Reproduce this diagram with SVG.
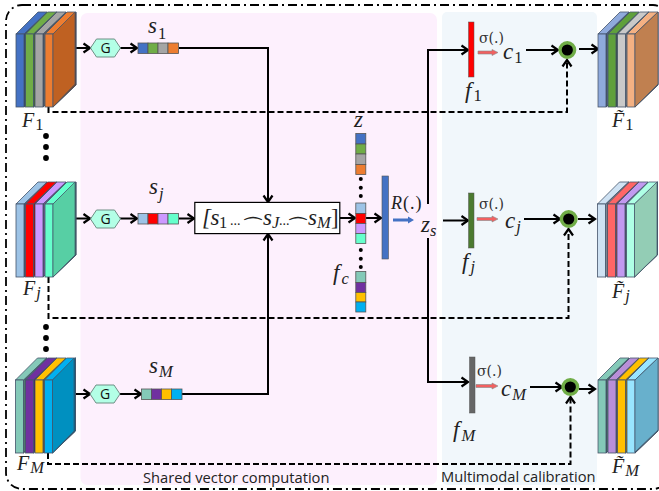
<svg xmlns="http://www.w3.org/2000/svg" xmlns:xlink="http://www.w3.org/1999/xlink" width="659" height="491" viewBox="0 0 659 491">
<style>
.m{font-family:"Liberation Serif","DejaVu Serif",serif;font-style:italic;fill:#222;font-size:23px}
.F{font-size:20px}
.f{font-size:23px}
.r{font-size:18px;letter-spacing:1px}
.n{font-style:normal}
.sub{font-size:16.500px}
.sm{font-family:"DejaVu Serif","Liberation Serif",serif;font-size:14px;fill:#333}
.cap{font-family:"Open Sans","Noto Sans",sans-serif;font-size:14.700px;fill:#222}
.g{font-family:"Open Sans","Noto Sans",sans-serif;font-size:14px;fill:#111;text-anchor:middle}
.ln{fill:none;stroke:#000;stroke-width:2}
.ar{marker-end:url(#arrow)}
.da{stroke-dasharray:6 3}
.hex{fill:#B3FFE6;stroke:#6F8F85;stroke-width:1}
.cell{stroke:#555;stroke-width:.8}
.side{stroke:#44546A;stroke-width:.7}
.dot{fill:#000}
.circ{fill:#000;stroke:#70AD47;stroke-width:3.400}
.dd{font-size:14px;font-style:normal}
.arc{font-family:"DejaVu Sans",sans-serif;font-size:20px;font-style:normal}
</style>
<defs>
<marker id="arrow" markerUnits="userSpaceOnUse" markerWidth="12" markerHeight="12" refX="9.500" refY="6" orient="auto"><path d="M3 1.500L9.500 6L3 10.500" fill="none" stroke="#000" stroke-width="2.200"/></marker>
<g id="slab" stroke="#44546A" stroke-width=".8"><polygon points="8,0 31,-22 31,51 8,73"/><polygon points="8,0 31,-22 31,51 8,73" fill="#000" fill-opacity=".4"/><polygon points="0,0 22,-22 31,-22 8,0"/><rect width="8" height="73"/></g>
<g id="hexa"><polygon class="hex" points="0,9 6,0 24,0 30,9 24,18 6,18"/><text class="g" x="15" y="14">G</text></g>
<g id="dots3"><circle class="dot" r="2.900"/><circle class="dot" cy="11" r="2.900"/><circle class="dot" cy="22" r="2.900"/></g>
<g id="vd"><circle class="dot" r="2"/><circle class="dot" cy="8.700" r="2"/><circle class="dot" cy="17" r="2"/></g>
</defs>
<rect id="bg-shared" x="80.500" y="13" width="356.500" height="472" rx="7" fill="#FDF0FD"/>
<rect id="bg-calib" x="442" y="12" width="155" height="473" rx="5" fill="#F1F7FB"/>
<rect id="frame" x="6" y="5" width="663" height="484" rx="16" fill="none" stroke="#000" stroke-width="1.800" stroke-dasharray="9 4 2 4"/>
<g id="connectors">
<path class="ln ar" d="M75 48H90"/><path class="ln ar" d="M120 48H137"/><path class="ln ar" d="M179 48H268V202"/>
<path class="ln ar" d="M75 218.500H90"/><path class="ln ar" d="M120 218.500H137"/><path class="ln ar" d="M179 218.500H194"/>
<path class="ln ar" d="M74 394H90"/><path class="ln ar" d="M120 394H141"/><path class="ln ar" d="M182 394H268V234"/>
<path class="ln ar" d="M340 218H355"/><path class="ln ar" d="M366 218H381"/>
<path class="ln ar" d="M428 204V50H468"/><path class="ln ar" d="M428 238V382H468"/><path class="ln ar" d="M443 220.500H468"/>
<path class="ln ar" d="M526 50H558"/><path class="ln ar" d="M524 219H560"/><path class="ln ar" d="M530 387H562"/>
<path class="ln ar" d="M579 49H598"/><path class="ln ar" d="M578 219H595"/><path class="ln ar" d="M579 389H595"/>
<path class="ln ar da" d="M48.500 107V112H567V60"/><path class="ln ar da" d="M48.500 277V318H568.500V229"/><path class="ln ar da" d="M48 453V464H570.500V397"/>
<polygon points="393,218.500 408,218.500 408,216.500 414,220 408,223.500 408,221.500 393,221.500" fill="#4472C4"/>
<polygon points="478,51 492,51 492,49.500 498,52.500 492,55.500 492,54 478,54" fill="#F26060" stroke="#888" stroke-width=".6"/>
<polygon points="477,217.500 492,217.500 492,216 498,219 492,222 492,220.500 477,220.500" fill="#F26060" stroke="#888" stroke-width=".6"/>
<polygon points="476,384.500 492,384.500 492,383 498,386 492,389 492,387.500 476,387.500" fill="#F26060" stroke="#888" stroke-width=".6"/>
</g>
<g id="stack-F1"><use xlink:href="#slab" x="16" y="34" fill="#4472C4"/><use xlink:href="#slab" x="25.500" y="34" fill="#70AD47"/><use xlink:href="#slab" x="35" y="34" fill="#A5A5A5"/><use xlink:href="#slab" x="45" y="34" fill="#ED7D31"/><polygon class="side" points="53,34 75,12 75,84 53,107" fill="#BF6122"/><text class="m F" x="22" y="127">F<tspan class="n sub" dy="3" dx="1">1</tspan></text></g>
<g id="stack-Fj"><use xlink:href="#slab" x="16" y="204" fill="#9DC3E6"/><use xlink:href="#slab" x="25.500" y="204" fill="#FF0000"/><use xlink:href="#slab" x="35" y="204" fill="#CC99FF"/><use xlink:href="#slab" x="45" y="204" fill="#66FFCC"/><polygon class="side" points="53,204 75,182 75,255 53,277" fill="#57CFA4"/><text class="m F" x="23" y="295">F<tspan class="sub" dy="3" dx="1">j</tspan></text></g>
<g id="stack-FM"><use xlink:href="#slab" x="15.500" y="380" fill="#84C9B8"/><use xlink:href="#slab" x="25.500" y="380" fill="#7030A0"/><use xlink:href="#slab" x="35" y="380" fill="#FFC000"/><use xlink:href="#slab" x="44.500" y="380" fill="#00B0F0"/><polygon class="side" points="52.500,380 74,358 74,431 52.500,453" fill="#0090C0"/><text class="m F" x="17" y="470">F<tspan class="sub" dy="3" dx="1">M</tspan></text></g>
<use id="dots-a" xlink:href="#dots3" x="46" y="136"/><use id="dots-b" xlink:href="#dots3" x="46" y="327"/>
<g id="g1"><use xlink:href="#hexa" x="90.500" y="39"/></g><g id="gj"><use xlink:href="#hexa" x="90.500" y="210"/></g><g id="gM"><use xlink:href="#hexa" x="90" y="385"/></g>
<g id="s1"><rect class="cell" x="138" y="43" width="10" height="10.500" fill="#4472C4"/><rect class="cell" x="148" y="43" width="10" height="10.500" fill="#70AD47"/><rect class="cell" x="158" y="43" width="10" height="10.500" fill="#A5A5A5"/><rect class="cell" x="168" y="43" width="10.500" height="10.500" fill="#ED7D31"/><text class="m" x="148" y="33">s<tspan class="n sub" dy="6" dx="1">1</tspan></text></g>
<g id="sj"><rect class="cell" x="138" y="213.500" width="10" height="10.500" fill="#9DC3E6"/><rect class="cell" x="148" y="213.500" width="10" height="10.500" fill="#FF0000"/><rect class="cell" x="158" y="213.500" width="10" height="10.500" fill="#CC99FF"/><rect class="cell" x="168" y="213.500" width="10.500" height="10.500" fill="#66FFCC"/><text class="m" x="149" y="194">s<tspan class="sub" dy="5" dx="1">j</tspan></text></g>
<g id="sM"><rect class="cell" x="141.500" y="389" width="10" height="10.500" fill="#84C9B8"/><rect class="cell" x="151.500" y="389" width="10" height="10.500" fill="#7030A0"/><rect class="cell" x="161.500" y="389" width="10" height="10.500" fill="#FFC000"/><rect class="cell" x="171.500" y="389" width="10.500" height="10.500" fill="#00B0F0"/><text class="m" x="149" y="373">s<tspan class="sub" dy="4" dx="1">M</tspan></text></g>
<g id="concat"><rect x="194.800" y="202.400" width="145" height="31.200" fill="#FFF" stroke="#000" stroke-width="1.200"/><text class="m" x="202" y="225">[<tspan x="210.500">s</tspan><tspan class="n sub" x="219" dy="3">1</tspan><tspan class="dd" x="230" dy="-3">...</tspan><tspan class="arc" x="245" dy="10">⁀</tspan><tspan x="263" dy="-10">s</tspan><tspan class="sub" x="272" dy="3">J</tspan><tspan class="dd" x="279" dy="-3">...</tspan><tspan class="arc" x="290" dy="10">⁀</tspan><tspan x="308" dy="-10">s</tspan><tspan class="sub" x="317" dy="3">M</tspan><tspan class="n" x="331" dy="-3">]</tspan></text></g>
<g id="vector-z">
<rect class="cell" x="355.800" y="133.500" width="10" height="10.500" fill="#4472C4"/><rect class="cell" x="355.800" y="144" width="10" height="10" fill="#70AD47"/><rect class="cell" x="355.800" y="154" width="10" height="10.500" fill="#A5A5A5"/><rect class="cell" x="355.800" y="164.500" width="10" height="10" fill="#ED7D31"/>
<use xlink:href="#vd" x="360.800" y="179"/>
<rect class="cell" x="355.800" y="203" width="10" height="10.500" fill="#9DC3E6"/><rect class="cell" x="355.800" y="213.500" width="10" height="10" fill="#FF0000"/><rect class="cell" x="355.800" y="223.500" width="10" height="10" fill="#CC99FF"/><rect class="cell" x="355.800" y="233.500" width="10" height="10" fill="#66FFCC"/>
<use xlink:href="#vd" x="360.800" y="250"/>
<rect class="cell" x="355.800" y="271.500" width="10" height="11" fill="#84C9B8"/><rect class="cell" x="355.800" y="282.500" width="10" height="10" fill="#7030A0"/><rect class="cell" x="355.800" y="292.500" width="10" height="9.500" fill="#FFC000"/><rect class="cell" x="355.800" y="302" width="10" height="10" fill="#00B0F0"/>
<text class="m" x="354" y="127">z</text><text class="m f" x="333" y="280">f<tspan class="sub" dy="4" dx="2">c</tspan></text></g>
<g id="R"><rect x="382" y="176" width="6.500" height="83" fill="#4472C4" stroke="#555" stroke-width=".6"/><text class="m r" x="391" y="209">R<tspan class="n">(.)</tspan></text><text class="m" x="421" y="232">z<tspan class="sub" dy="4">s</tspan></text></g>
<g id="f1"><rect x="468.500" y="22" width="5.500" height="55" fill="#FF0000" stroke="#555" stroke-width=".5"/><text class="m f" x="465" y="98">f<tspan class="n sub" dy="3" dx="2">1</tspan></text><text class="sm" x="479" y="43">σ(.)</text><text class="m" x="503" y="59">c<tspan class="n sub" dy="4" dx="1">1</tspan></text></g>
<g id="fj"><rect x="468.500" y="193" width="5.500" height="55" fill="#4B7A2F" stroke="#555" stroke-width=".5"/><text class="m f" x="462" y="269">f<tspan class="sub" dy="3" dx="2">j</tspan></text><text class="sm" x="479" y="209">σ(.)</text><text class="m" x="505" y="228">c<tspan class="sub" dy="4" dx="1">j</tspan></text></g>
<g id="fM"><rect x="469.500" y="357" width="5.500" height="56" fill="#666" stroke="#555" stroke-width=".5"/><text class="m f" x="453" y="437">f<tspan class="sub" dy="4" dx="2">M</tspan></text><text class="sm" x="477" y="376">σ(.)</text><text class="m" x="501" y="396">c<tspan class="sub" dy="4" dx="1">M</tspan></text></g>
<circle id="mul1" class="circ" cx="567.300" cy="50" r="7.300"/><circle id="mulj" class="circ" cx="568.700" cy="219" r="7.300"/><circle id="mulM" class="circ" cx="570.300" cy="387" r="7.300"/>
<g id="stack-out1"><use xlink:href="#slab" x="598" y="34" fill="#8FAADC"/><use xlink:href="#slab" x="608" y="34" fill="#5FA03C"/><use xlink:href="#slab" x="617.500" y="34" fill="#C9C9C9"/><use xlink:href="#slab" x="627" y="34" fill="#F4B183"/><polygon class="side" points="635,34 658,12 658,84 635,107" fill="#C08050"/><text class="m F" x="612" y="127">F̃<tspan class="n sub" dy="3" dx="1">1</tspan></text></g>
<g id="stack-outj"><use xlink:href="#slab" x="597.500" y="204" fill="#CFE2F3"/><use xlink:href="#slab" x="607.500" y="204" fill="#FF6666"/><use xlink:href="#slab" x="617" y="204" fill="#C299F0"/><use xlink:href="#slab" x="626.500" y="204" fill="#AFFFE5"/><polygon class="side" points="634.500,204 657,182 657,255 634.500,277" fill="#93CDB5"/><text class="m F" x="612" y="298">F̃<tspan class="sub" dy="3" dx="1">j</tspan></text></g>
<g id="stack-outM"><use xlink:href="#slab" x="598" y="380" fill="#84C9B8"/><use xlink:href="#slab" x="608" y="380" fill="#B98FD8"/><use xlink:href="#slab" x="617.500" y="380" fill="#FFC000"/><use xlink:href="#slab" x="627" y="380" fill="#99E5FF"/><polygon class="side" points="635,380 658,358 658,430 635,452" fill="#68B0CC"/><text class="m F" x="612" y="473">F̃<tspan class="sub" dy="3" dx="1">M</tspan></text></g>
<text class="cap" x="143" y="483">Shared vector computation</text>
<text class="cap" x="441" y="482">Multimodal calibration</text>
</svg>
